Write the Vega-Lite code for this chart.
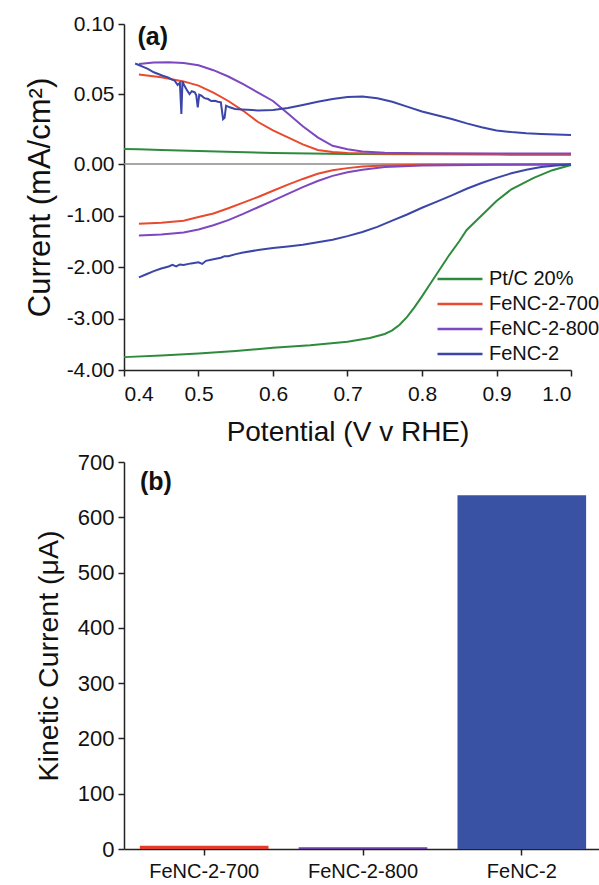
{
  "$schema": "https://vega.github.io/schema/vega-lite/v6.json",
  "padding": {"left": 24, "top": 13, "right": 0, "bottom": 0},
  "bounds": "flush",
  "spacing": 92,
  "resolve": {"scale": {"color": "independent"}, "legend": {"color": "independent"}},
  "config": {
    "font": "Liberation Sans",
    "view": {"stroke": null},
    "axis": {"domainColor": "#222", "tickColor": "#222", "labelColor": "#111", "titleColor": "#111", "domainWidth": 1.5, "tickWidth": 1.5, "grid": false, "labelFont": "Liberation Sans", "titleFont": "Liberation Sans", "titleFontWeight": "normal"}
  },
  "datasets": {
    "curves": [
      {"sample": "Pt/C 20%", "branch": "ring", "potential": 0.40, "current": 0.0108},
      {"sample": "Pt/C 20%", "branch": "ring", "potential": 0.42, "current": 0.0105},
      {"sample": "Pt/C 20%", "branch": "ring", "potential": 0.45, "current": 0.0100},
      {"sample": "Pt/C 20%", "branch": "ring", "potential": 0.50, "current": 0.0092},
      {"sample": "Pt/C 20%", "branch": "ring", "potential": 0.55, "current": 0.0085},
      {"sample": "Pt/C 20%", "branch": "ring", "potential": 0.60, "current": 0.0079},
      {"sample": "Pt/C 20%", "branch": "ring", "potential": 0.65, "current": 0.0075},
      {"sample": "Pt/C 20%", "branch": "ring", "potential": 0.70, "current": 0.0072},
      {"sample": "Pt/C 20%", "branch": "ring", "potential": 0.80, "current": 0.0069},
      {"sample": "Pt/C 20%", "branch": "ring", "potential": 0.90, "current": 0.0067},
      {"sample": "Pt/C 20%", "branch": "ring", "potential": 1.00, "current": 0.0066},
      {"sample": "Pt/C 20%", "branch": "disk", "potential": 0.40, "current": -3.75},
      {"sample": "Pt/C 20%", "branch": "disk", "potential": 0.45, "current": -3.72},
      {"sample": "Pt/C 20%", "branch": "disk", "potential": 0.50, "current": -3.68},
      {"sample": "Pt/C 20%", "branch": "disk", "potential": 0.55, "current": -3.63},
      {"sample": "Pt/C 20%", "branch": "disk", "potential": 0.60, "current": -3.57},
      {"sample": "Pt/C 20%", "branch": "disk", "potential": 0.65, "current": -3.52},
      {"sample": "Pt/C 20%", "branch": "disk", "potential": 0.70, "current": -3.45},
      {"sample": "Pt/C 20%", "branch": "disk", "potential": 0.73, "current": -3.38},
      {"sample": "Pt/C 20%", "branch": "disk", "potential": 0.75, "current": -3.30},
      {"sample": "Pt/C 20%", "branch": "disk", "potential": 0.76, "current": -3.23},
      {"sample": "Pt/C 20%", "branch": "disk", "potential": 0.77, "current": -3.12},
      {"sample": "Pt/C 20%", "branch": "disk", "potential": 0.78, "current": -2.97},
      {"sample": "Pt/C 20%", "branch": "disk", "potential": 0.79, "current": -2.78},
      {"sample": "Pt/C 20%", "branch": "disk", "potential": 0.80, "current": -2.57},
      {"sample": "Pt/C 20%", "branch": "disk", "potential": 0.81, "current": -2.35},
      {"sample": "Pt/C 20%", "branch": "disk", "potential": 0.82, "current": -2.13},
      {"sample": "Pt/C 20%", "branch": "disk", "potential": 0.835, "current": -1.80},
      {"sample": "Pt/C 20%", "branch": "disk", "potential": 0.85, "current": -1.50},
      {"sample": "Pt/C 20%", "branch": "disk", "potential": 0.86, "current": -1.28},
      {"sample": "Pt/C 20%", "branch": "disk", "potential": 0.88, "current": -1.00},
      {"sample": "Pt/C 20%", "branch": "disk", "potential": 0.90, "current": -0.72},
      {"sample": "Pt/C 20%", "branch": "disk", "potential": 0.92, "current": -0.49},
      {"sample": "Pt/C 20%", "branch": "disk", "potential": 0.95, "current": -0.27},
      {"sample": "Pt/C 20%", "branch": "disk", "potential": 0.975, "current": -0.12},
      {"sample": "Pt/C 20%", "branch": "disk", "potential": 1.00, "current": -0.02},

      {"sample": "FeNC-2-700", "branch": "ring", "potential": 0.42, "current": 0.064},
      {"sample": "FeNC-2-700", "branch": "ring", "potential": 0.45, "current": 0.062},
      {"sample": "FeNC-2-700", "branch": "ring", "potential": 0.48, "current": 0.059},
      {"sample": "FeNC-2-700", "branch": "ring", "potential": 0.50, "current": 0.056},
      {"sample": "FeNC-2-700", "branch": "ring", "potential": 0.52, "current": 0.051},
      {"sample": "FeNC-2-700", "branch": "ring", "potential": 0.54, "current": 0.045},
      {"sample": "FeNC-2-700", "branch": "ring", "potential": 0.56, "current": 0.038},
      {"sample": "FeNC-2-700", "branch": "ring", "potential": 0.58, "current": 0.030},
      {"sample": "FeNC-2-700", "branch": "ring", "potential": 0.60, "current": 0.024},
      {"sample": "FeNC-2-700", "branch": "ring", "potential": 0.62, "current": 0.019},
      {"sample": "FeNC-2-700", "branch": "ring", "potential": 0.64, "current": 0.014},
      {"sample": "FeNC-2-700", "branch": "ring", "potential": 0.66, "current": 0.010},
      {"sample": "FeNC-2-700", "branch": "ring", "potential": 0.68, "current": 0.0085},
      {"sample": "FeNC-2-700", "branch": "ring", "potential": 0.70, "current": 0.0078},
      {"sample": "FeNC-2-700", "branch": "ring", "potential": 0.75, "current": 0.0074},
      {"sample": "FeNC-2-700", "branch": "ring", "potential": 0.80, "current": 0.0073},
      {"sample": "FeNC-2-700", "branch": "ring", "potential": 0.90, "current": 0.0072},
      {"sample": "FeNC-2-700", "branch": "ring", "potential": 1.00, "current": 0.0072},
      {"sample": "FeNC-2-700", "branch": "disk", "potential": 0.42, "current": -1.16},
      {"sample": "FeNC-2-700", "branch": "disk", "potential": 0.45, "current": -1.14},
      {"sample": "FeNC-2-700", "branch": "disk", "potential": 0.48, "current": -1.10},
      {"sample": "FeNC-2-700", "branch": "disk", "potential": 0.50, "current": -1.03},
      {"sample": "FeNC-2-700", "branch": "disk", "potential": 0.52, "current": -0.96},
      {"sample": "FeNC-2-700", "branch": "disk", "potential": 0.54, "current": -0.86},
      {"sample": "FeNC-2-700", "branch": "disk", "potential": 0.56, "current": -0.75},
      {"sample": "FeNC-2-700", "branch": "disk", "potential": 0.58, "current": -0.64},
      {"sample": "FeNC-2-700", "branch": "disk", "potential": 0.60, "current": -0.52},
      {"sample": "FeNC-2-700", "branch": "disk", "potential": 0.62, "current": -0.40},
      {"sample": "FeNC-2-700", "branch": "disk", "potential": 0.64, "current": -0.29},
      {"sample": "FeNC-2-700", "branch": "disk", "potential": 0.66, "current": -0.19},
      {"sample": "FeNC-2-700", "branch": "disk", "potential": 0.68, "current": -0.12},
      {"sample": "FeNC-2-700", "branch": "disk", "potential": 0.70, "current": -0.08},
      {"sample": "FeNC-2-700", "branch": "disk", "potential": 0.72, "current": -0.05},
      {"sample": "FeNC-2-700", "branch": "disk", "potential": 0.75, "current": -0.03},
      {"sample": "FeNC-2-700", "branch": "disk", "potential": 0.80, "current": -0.015},
      {"sample": "FeNC-2-700", "branch": "disk", "potential": 0.90, "current": -0.01},
      {"sample": "FeNC-2-700", "branch": "disk", "potential": 1.00, "current": -0.005},

      {"sample": "FeNC-2-800", "branch": "ring", "potential": 0.42, "current": 0.0715},
      {"sample": "FeNC-2-800", "branch": "ring", "potential": 0.44, "current": 0.0725},
      {"sample": "FeNC-2-800", "branch": "ring", "potential": 0.46, "current": 0.0727},
      {"sample": "FeNC-2-800", "branch": "ring", "potential": 0.48, "current": 0.0722},
      {"sample": "FeNC-2-800", "branch": "ring", "potential": 0.50, "current": 0.0705},
      {"sample": "FeNC-2-800", "branch": "ring", "potential": 0.52, "current": 0.067},
      {"sample": "FeNC-2-800", "branch": "ring", "potential": 0.54, "current": 0.0625},
      {"sample": "FeNC-2-800", "branch": "ring", "potential": 0.56, "current": 0.057},
      {"sample": "FeNC-2-800", "branch": "ring", "potential": 0.58, "current": 0.051},
      {"sample": "FeNC-2-800", "branch": "ring", "potential": 0.60, "current": 0.045},
      {"sample": "FeNC-2-800", "branch": "ring", "potential": 0.62, "current": 0.036},
      {"sample": "FeNC-2-800", "branch": "ring", "potential": 0.64, "current": 0.027},
      {"sample": "FeNC-2-800", "branch": "ring", "potential": 0.66, "current": 0.019},
      {"sample": "FeNC-2-800", "branch": "ring", "potential": 0.68, "current": 0.013},
      {"sample": "FeNC-2-800", "branch": "ring", "potential": 0.70, "current": 0.0105},
      {"sample": "FeNC-2-800", "branch": "ring", "potential": 0.72, "current": 0.009},
      {"sample": "FeNC-2-800", "branch": "ring", "potential": 0.75, "current": 0.008},
      {"sample": "FeNC-2-800", "branch": "ring", "potential": 0.80, "current": 0.0076},
      {"sample": "FeNC-2-800", "branch": "ring", "potential": 0.90, "current": 0.0075},
      {"sample": "FeNC-2-800", "branch": "ring", "potential": 1.00, "current": 0.0075},
      {"sample": "FeNC-2-800", "branch": "disk", "potential": 0.42, "current": -1.39},
      {"sample": "FeNC-2-800", "branch": "disk", "potential": 0.45, "current": -1.37},
      {"sample": "FeNC-2-800", "branch": "disk", "potential": 0.48, "current": -1.33},
      {"sample": "FeNC-2-800", "branch": "disk", "potential": 0.50, "current": -1.27},
      {"sample": "FeNC-2-800", "branch": "disk", "potential": 0.52, "current": -1.19},
      {"sample": "FeNC-2-800", "branch": "disk", "potential": 0.54, "current": -1.09},
      {"sample": "FeNC-2-800", "branch": "disk", "potential": 0.56, "current": -0.97},
      {"sample": "FeNC-2-800", "branch": "disk", "potential": 0.58, "current": -0.84},
      {"sample": "FeNC-2-800", "branch": "disk", "potential": 0.60, "current": -0.71},
      {"sample": "FeNC-2-800", "branch": "disk", "potential": 0.62, "current": -0.58},
      {"sample": "FeNC-2-800", "branch": "disk", "potential": 0.64, "current": -0.45},
      {"sample": "FeNC-2-800", "branch": "disk", "potential": 0.66, "current": -0.33},
      {"sample": "FeNC-2-800", "branch": "disk", "potential": 0.68, "current": -0.23},
      {"sample": "FeNC-2-800", "branch": "disk", "potential": 0.70, "current": -0.16},
      {"sample": "FeNC-2-800", "branch": "disk", "potential": 0.72, "current": -0.11},
      {"sample": "FeNC-2-800", "branch": "disk", "potential": 0.75, "current": -0.06},
      {"sample": "FeNC-2-800", "branch": "disk", "potential": 0.80, "current": -0.03},
      {"sample": "FeNC-2-800", "branch": "disk", "potential": 0.90, "current": -0.015},
      {"sample": "FeNC-2-800", "branch": "disk", "potential": 1.00, "current": -0.01},

      {"sample": "FeNC-2", "branch": "ring", "potential": 0.415, "current": 0.0718},
      {"sample": "FeNC-2", "branch": "ring", "potential": 0.425, "current": 0.0695},
      {"sample": "FeNC-2", "branch": "ring", "potential": 0.432, "current": 0.0679},
      {"sample": "FeNC-2", "branch": "ring", "potential": 0.440, "current": 0.0655},
      {"sample": "FeNC-2", "branch": "ring", "potential": 0.446, "current": 0.0643},
      {"sample": "FeNC-2", "branch": "ring", "potential": 0.452, "current": 0.0630},
      {"sample": "FeNC-2", "branch": "ring", "potential": 0.459, "current": 0.0619},
      {"sample": "FeNC-2", "branch": "ring", "potential": 0.464, "current": 0.0605},
      {"sample": "FeNC-2", "branch": "ring", "potential": 0.468, "current": 0.0595},
      {"sample": "FeNC-2", "branch": "ring", "potential": 0.472, "current": 0.0565},
      {"sample": "FeNC-2", "branch": "ring", "potential": 0.475, "current": 0.0580},
      {"sample": "FeNC-2", "branch": "ring", "potential": 0.477, "current": 0.0357},
      {"sample": "FeNC-2", "branch": "ring", "potential": 0.4785, "current": 0.0590},
      {"sample": "FeNC-2", "branch": "ring", "potential": 0.481, "current": 0.0560},
      {"sample": "FeNC-2", "branch": "ring", "potential": 0.4836, "current": 0.0536},
      {"sample": "FeNC-2", "branch": "ring", "potential": 0.486, "current": 0.0515},
      {"sample": "FeNC-2", "branch": "ring", "potential": 0.488, "current": 0.0500},
      {"sample": "FeNC-2", "branch": "ring", "potential": 0.491, "current": 0.0520},
      {"sample": "FeNC-2", "branch": "ring", "potential": 0.495, "current": 0.0512},
      {"sample": "FeNC-2", "branch": "ring", "potential": 0.497, "current": 0.0490},
      {"sample": "FeNC-2", "branch": "ring", "potential": 0.499, "current": 0.0405},
      {"sample": "FeNC-2", "branch": "ring", "potential": 0.501, "current": 0.0495},
      {"sample": "FeNC-2", "branch": "ring", "potential": 0.504, "current": 0.0488},
      {"sample": "FeNC-2", "branch": "ring", "potential": 0.508, "current": 0.0470},
      {"sample": "FeNC-2", "branch": "ring", "potential": 0.513, "current": 0.0464},
      {"sample": "FeNC-2", "branch": "ring", "potential": 0.517, "current": 0.0450},
      {"sample": "FeNC-2", "branch": "ring", "potential": 0.522, "current": 0.0452},
      {"sample": "FeNC-2", "branch": "ring", "potential": 0.526, "current": 0.0445},
      {"sample": "FeNC-2", "branch": "ring", "potential": 0.530, "current": 0.0440},
      {"sample": "FeNC-2", "branch": "ring", "potential": 0.533, "current": 0.0320},
      {"sample": "FeNC-2", "branch": "ring", "potential": 0.535, "current": 0.0330},
      {"sample": "FeNC-2", "branch": "ring", "potential": 0.537, "current": 0.0417},
      {"sample": "FeNC-2", "branch": "ring", "potential": 0.542, "current": 0.0405},
      {"sample": "FeNC-2", "branch": "ring", "potential": 0.549, "current": 0.0393},
      {"sample": "FeNC-2", "branch": "ring", "potential": 0.558, "current": 0.0390},
      {"sample": "FeNC-2", "branch": "ring", "potential": 0.566, "current": 0.0388},
      {"sample": "FeNC-2", "branch": "ring", "potential": 0.58, "current": 0.0382},
      {"sample": "FeNC-2", "branch": "ring", "potential": 0.60, "current": 0.0385},
      {"sample": "FeNC-2", "branch": "ring", "potential": 0.62, "current": 0.0400},
      {"sample": "FeNC-2", "branch": "ring", "potential": 0.64, "current": 0.0422},
      {"sample": "FeNC-2", "branch": "ring", "potential": 0.66, "current": 0.0445},
      {"sample": "FeNC-2", "branch": "ring", "potential": 0.68, "current": 0.0465},
      {"sample": "FeNC-2", "branch": "ring", "potential": 0.70, "current": 0.0478},
      {"sample": "FeNC-2", "branch": "ring", "potential": 0.72, "current": 0.0482},
      {"sample": "FeNC-2", "branch": "ring", "potential": 0.74, "current": 0.0470},
      {"sample": "FeNC-2", "branch": "ring", "potential": 0.76, "current": 0.0445},
      {"sample": "FeNC-2", "branch": "ring", "potential": 0.78, "current": 0.0410},
      {"sample": "FeNC-2", "branch": "ring", "potential": 0.80, "current": 0.0375},
      {"sample": "FeNC-2", "branch": "ring", "potential": 0.82, "current": 0.0348},
      {"sample": "FeNC-2", "branch": "ring", "potential": 0.84, "current": 0.0322},
      {"sample": "FeNC-2", "branch": "ring", "potential": 0.86, "current": 0.0290},
      {"sample": "FeNC-2", "branch": "ring", "potential": 0.88, "current": 0.0262},
      {"sample": "FeNC-2", "branch": "ring", "potential": 0.90, "current": 0.0240},
      {"sample": "FeNC-2", "branch": "ring", "potential": 0.92, "current": 0.0228},
      {"sample": "FeNC-2", "branch": "ring", "potential": 0.94, "current": 0.0220},
      {"sample": "FeNC-2", "branch": "ring", "potential": 0.96, "current": 0.0215},
      {"sample": "FeNC-2", "branch": "ring", "potential": 0.98, "current": 0.0211},
      {"sample": "FeNC-2", "branch": "ring", "potential": 1.00, "current": 0.0208},
      {"sample": "FeNC-2", "branch": "disk", "potential": 0.42, "current": -2.20},
      {"sample": "FeNC-2", "branch": "disk", "potential": 0.43, "current": -2.14},
      {"sample": "FeNC-2", "branch": "disk", "potential": 0.44, "current": -2.08},
      {"sample": "FeNC-2", "branch": "disk", "potential": 0.45, "current": -2.03},
      {"sample": "FeNC-2", "branch": "disk", "potential": 0.46, "current": -1.99},
      {"sample": "FeNC-2", "branch": "disk", "potential": 0.465, "current": -1.96},
      {"sample": "FeNC-2", "branch": "disk", "potential": 0.47, "current": -1.99},
      {"sample": "FeNC-2", "branch": "disk", "potential": 0.475, "current": -1.95},
      {"sample": "FeNC-2", "branch": "disk", "potential": 0.48, "current": -1.96},
      {"sample": "FeNC-2", "branch": "disk", "potential": 0.49, "current": -1.93},
      {"sample": "FeNC-2", "branch": "disk", "potential": 0.50, "current": -1.91},
      {"sample": "FeNC-2", "branch": "disk", "potential": 0.505, "current": -1.94},
      {"sample": "FeNC-2", "branch": "disk", "potential": 0.51, "current": -1.88},
      {"sample": "FeNC-2", "branch": "disk", "potential": 0.52, "current": -1.85},
      {"sample": "FeNC-2", "branch": "disk", "potential": 0.53, "current": -1.82},
      {"sample": "FeNC-2", "branch": "disk", "potential": 0.535, "current": -1.79},
      {"sample": "FeNC-2", "branch": "disk", "potential": 0.54, "current": -1.79},
      {"sample": "FeNC-2", "branch": "disk", "potential": 0.55, "current": -1.75},
      {"sample": "FeNC-2", "branch": "disk", "potential": 0.56, "current": -1.72},
      {"sample": "FeNC-2", "branch": "disk", "potential": 0.58, "current": -1.67},
      {"sample": "FeNC-2", "branch": "disk", "potential": 0.60, "current": -1.63},
      {"sample": "FeNC-2", "branch": "disk", "potential": 0.62, "current": -1.60},
      {"sample": "FeNC-2", "branch": "disk", "potential": 0.64, "current": -1.57},
      {"sample": "FeNC-2", "branch": "disk", "potential": 0.66, "current": -1.52},
      {"sample": "FeNC-2", "branch": "disk", "potential": 0.68, "current": -1.47},
      {"sample": "FeNC-2", "branch": "disk", "potential": 0.70, "current": -1.40},
      {"sample": "FeNC-2", "branch": "disk", "potential": 0.72, "current": -1.32},
      {"sample": "FeNC-2", "branch": "disk", "potential": 0.74, "current": -1.22},
      {"sample": "FeNC-2", "branch": "disk", "potential": 0.76, "current": -1.10},
      {"sample": "FeNC-2", "branch": "disk", "potential": 0.78, "current": -0.98},
      {"sample": "FeNC-2", "branch": "disk", "potential": 0.80, "current": -0.85},
      {"sample": "FeNC-2", "branch": "disk", "potential": 0.82, "current": -0.73},
      {"sample": "FeNC-2", "branch": "disk", "potential": 0.84, "current": -0.61},
      {"sample": "FeNC-2", "branch": "disk", "potential": 0.86, "current": -0.48},
      {"sample": "FeNC-2", "branch": "disk", "potential": 0.88, "current": -0.37},
      {"sample": "FeNC-2", "branch": "disk", "potential": 0.90, "current": -0.27},
      {"sample": "FeNC-2", "branch": "disk", "potential": 0.92, "current": -0.18},
      {"sample": "FeNC-2", "branch": "disk", "potential": 0.94, "current": -0.11},
      {"sample": "FeNC-2", "branch": "disk", "potential": 0.96, "current": -0.06},
      {"sample": "FeNC-2", "branch": "disk", "potential": 0.98, "current": -0.03},
      {"sample": "FeNC-2", "branch": "disk", "potential": 1.00, "current": -0.01}
    ],
    "bars": [
      {"sample": "FeNC-2-700", "kinetic": 6},
      {"sample": "FeNC-2-800", "kinetic": 3},
      {"sample": "FeNC-2", "kinetic": 640}
    ]
  },
  "vconcat": [
    {
      "width": 447,
      "height": 346,
      "layer": [
        {
          "data": {"values": [{}]},
          "mark": {"type": "rule", "color": "#8a8a8a", "strokeWidth": 1.5},
          "encoding": {"y": {"datum": 0, "type": "quantitative"}}
        },
        {
          "data": {"name": "curves"},
          "mark": {"type": "line", "strokeWidth": 2},
          "encoding": {
            "x": {
              "field": "potential", "type": "quantitative",
              "scale": {"domain": [0.4, 1.0], "nice": false, "zero": false},
              "axis": {
                "values": [0.4, 0.45, 0.5, 0.55, 0.6, 0.65, 0.7, 0.75, 0.8, 0.85, 0.9, 0.95, 1.0],
                "labelExpr": "indexof([0.45,0.55,0.65,0.75,0.85,0.95], datum.value) >= 0 ? '' : format(datum.value, '.1f')",
                "tickSize": {"condition": {"test": "indexof([0.45,0.55,0.65,0.75,0.85,0.95], datum.value) >= 0", "value": 3}, "value": 6},
                "labelOverlap": false,
                "labelFontSize": 21,
                "labelPadding": 7,
                "title": "Potential (V v RHE)",
                "titleFontSize": 28,
                "titlePadding": 14
              }
            },
            "y": {
              "field": "current", "type": "quantitative",
              "scale": {"domain": [-4, 0, 0.1], "range": [346, 140, 0], "nice": false, "zero": false},
              "axis": {
                "values": [-4, -3.5, -3, -2.5, -2, -1.5, -1, -0.5, 0, 0.025, 0.05, 0.075, 0.1],
                "labelExpr": "indexof([-3.5,-2.5,-1.5,-0.5,0.025,0.075], datum.value) >= 0 ? '' : replace(format(datum.value, '.2f'), '\u2212', '-')",
                "tickSize": {"condition": {"test": "indexof([-3.5,-2.5,-1.5,-0.5,0.025,0.075], datum.value) >= 0", "value": 3}, "value": 6},
                "labelOverlap": false,
                "labelFontSize": 21,
                "labelPadding": 4,
                "title": "Current (mA/cm²)",
                "titleFontSize": 31,
                "titlePadding": 10
              }
            },
            "color": {
              "field": "sample", "type": "nominal",
              "scale": {"domain": ["Pt/C 20%", "FeNC-2-700", "FeNC-2-800", "FeNC-2"], "range": ["#2E8B3E", "#E84A2E", "#7D48BF", "#3B46A8"]},
              "legend": {
                "orient": "none", "legendX": 321, "legendY": 240, "title": null,
                "symbolType": "M-1.667,0L1.667,0", "symbolSize": 729, "symbolStrokeWidth": 2.5, "symbolFillColor": "transparent",
                "labelFontSize": 20, "labelFont": "Liberation Sans", "labelColor": "#111",
                "rowPadding": 0, "labelOffset": 14, "padding": 0
              }
            },
            "detail": {"field": "branch"}
          }
        },
        {
          "data": {"values": [{}]},
          "mark": {"type": "text", "text": "(a)", "fontWeight": "bold", "fontSize": 25, "align": "left", "baseline": "middle", "color": "#111"},
          "encoding": {"x": {"datum": 0.418, "type": "quantitative"}, "y": {"datum": 0.0905, "type": "quantitative"}}
        }
      ]
    },
    {
      "width": 478,
      "height": 387,
      "layer": [
        {
          "data": {"name": "bars"},
          "mark": {"type": "bar"},
          "encoding": {
            "x": {
              "field": "sample", "type": "nominal", "sort": null,
              "scale": {"paddingInner": 0.19, "paddingOuter": 0.1},
              "axis": {"title": null, "labelAngle": 0, "labelFontSize": 20, "tickSize": 6, "labelPadding": 6}
            },
            "y": {
              "field": "kinetic", "type": "quantitative",
              "scale": {"domain": [0, 700], "nice": false},
              "axis": {
                "values": [0, 50, 100, 150, 200, 250, 300, 350, 400, 450, 500, 550, 600, 650, 700],
                "labelExpr": "datum.value % 100 != 0 ? '' : datum.label",
                "tickSize": {"condition": {"test": "datum.value % 100 != 0", "value": 3}, "value": 6},
                "labelOverlap": false,
                "labelFontSize": 22,
                "labelPadding": 4,
                "title": "Kinetic Current (μA)",
                "titleFontSize": 28.5,
                "titlePadding": 14
              }
            },
            "color": {
              "field": "sample", "type": "nominal",
              "scale": {"domain": ["FeNC-2-700", "FeNC-2-800", "FeNC-2"], "range": ["#E03C2C", "#6B3FA8", "#3A52A3"]},
              "legend": null
            }
          }
        },
        {
          "data": {"values": [{}]},
          "mark": {"type": "text", "text": "(b)", "fontWeight": "bold", "fontSize": 25, "align": "left", "baseline": "middle", "color": "#111"},
          "encoding": {"x": {"datum": "FeNC-2-700", "type": "nominal", "bandPosition": 0}, "y": {"datum": 664, "type": "quantitative"}}
        }
      ]
    }
  ]
}
